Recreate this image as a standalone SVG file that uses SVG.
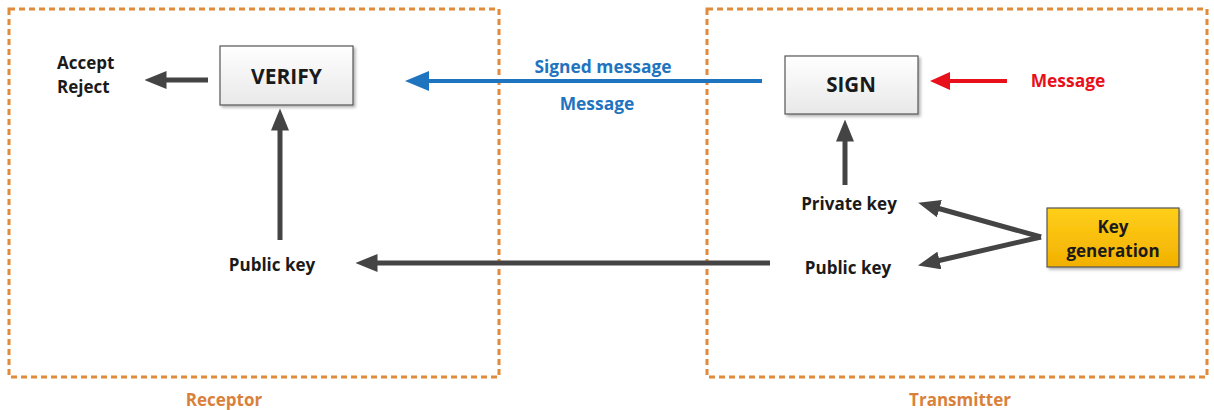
<svg xmlns="http://www.w3.org/2000/svg" width="1214" height="410" viewBox="0 0 1214 410">
<style>
.t{font-family:"Open Sans","Liberation Sans",sans-serif;font-weight:bold;}
.blk{fill:#1a1a1a;font-size:17px;}
.box{fill:url(#gw);stroke:#555;stroke-width:1.2;}
.dash{fill:none;stroke:#e08a3c;stroke-width:3;stroke-dasharray:6 4;}
.org{fill:#d9813a;font-size:17px;}
.blue{fill:#1f74bf;font-size:17.4px;}
.c{stroke:#444;stroke-width:5;fill:none;}
</style>
<defs>
<linearGradient id="gw" x1="0" y1="0" x2="0" y2="1"><stop offset="0" stop-color="#ffffff"/><stop offset="1" stop-color="#e8e8e8"/></linearGradient>
<linearGradient id="gy" x1="0" y1="0" x2="0" y2="1"><stop offset="0" stop-color="#ffcf1a"/><stop offset="1" stop-color="#f2b000"/></linearGradient>
<filter id="sh" x="-10%" y="-10%" width="130%" height="130%"><feDropShadow dx="2" dy="2" stdDeviation="1.5" flood-color="#000" flood-opacity="0.3"/></filter>
<marker id="ak" markerWidth="4.4" markerHeight="3.6" refX="0.5" refY="1.8" orient="auto" markerUnits="strokeWidth" viewBox="0 0 4.4 3.6"><path d="M0,0 L4.4,1.8 L0,3.6 Z" fill="#444"/></marker>
<marker id="ab" markerWidth="6" markerHeight="5" refX="0.5" refY="2.5" orient="auto" markerUnits="strokeWidth" viewBox="0 0 6 5"><path d="M0,0 L6,2.5 L0,5 Z" fill="#1f74bf"/></marker>
<marker id="ar" markerWidth="5" markerHeight="4.5" refX="0.5" refY="2.25" orient="auto" markerUnits="strokeWidth" viewBox="0 0 5 4.5"><path d="M0,0 L5,2.25 L0,4.5 Z" fill="#e8101a"/></marker>
</defs>
<rect width="1214" height="410" fill="#fff"/>
<g id="receptor">
<rect class="dash" x="9" y="9" width="490" height="368"/>
<text class="t org" x="224" y="406" text-anchor="middle">Receptor</text>
</g>
<g id="transmitter">
<rect class="dash" x="707" y="9" width="500" height="368"/>
<text class="t org" x="960" y="406" text-anchor="middle">Transmitter</text>
</g>
<g id="connectors">
<line class="c" x1="208" y1="80" x2="164" y2="80" marker-end="url(#ak)"/>
<line x1="762" y1="81" x2="427" y2="81" stroke="#1f74bf" stroke-width="4" marker-end="url(#ab)" fill="none"/>
<line x1="1007" y1="81" x2="948" y2="81" stroke="#e8101a" stroke-width="4" marker-end="url(#ar)" fill="none"/>
<line class="c" x1="845" y1="185" x2="845" y2="139" marker-end="url(#ak)"/>
<line class="c" x1="280" y1="240" x2="280" y2="128" marker-end="url(#ak)"/>
<line class="c" x1="770" y1="263" x2="375" y2="263" marker-end="url(#ak)"/>
<line class="c" x1="1041" y1="237" x2="937" y2="208" marker-end="url(#ak)"/>
<line class="c" x1="1041" y1="237" x2="937" y2="261" marker-end="url(#ak)"/>
</g>
<g id="accept-reject">
<text class="t blk" x="57" y="69">Accept</text>
<text class="t blk" x="57" y="93">Reject</text>
</g>
<g id="verify">
<rect class="box" x="220" y="46" width="133" height="59" filter="url(#sh)"/>
<text class="t" x="286.5" y="84" text-anchor="middle" font-size="21" fill="#1a1a1a">VERIFY</text>
</g>
<g id="signed-message">
<text class="t blue" x="603" y="73" text-anchor="middle">Signed message</text>
<text class="t blue" x="597" y="110" text-anchor="middle">Message</text>
</g>
<g id="sign">
<rect class="box" x="785" y="56" width="133" height="58" filter="url(#sh)"/>
<text class="t" x="851" y="92" text-anchor="middle" font-size="20.5" fill="#1a1a1a">SIGN</text>
</g>
<g id="message">
<text class="t" x="1068" y="87" text-anchor="middle" font-size="17.4" fill="#e8101a">Message</text>
</g>
<g id="private-key">
<text class="t blk" x="849" y="210" text-anchor="middle">Private key</text>
</g>
<g id="public-key-t">
<text class="t blk" x="848" y="274" text-anchor="middle">Public key</text>
</g>
<g id="key-generation">
<rect x="1047" y="208" width="132" height="59" fill="url(#gy)" stroke="#555" stroke-width="1.2" filter="url(#sh)"/>
<text class="t blk" x="1113" y="233" text-anchor="middle">Key</text>
<text class="t blk" x="1113" y="257" text-anchor="middle">generation</text>
</g>
<g id="public-key-r">
<text class="t blk" x="272" y="271" text-anchor="middle">Public key</text>
</g>
</svg>
